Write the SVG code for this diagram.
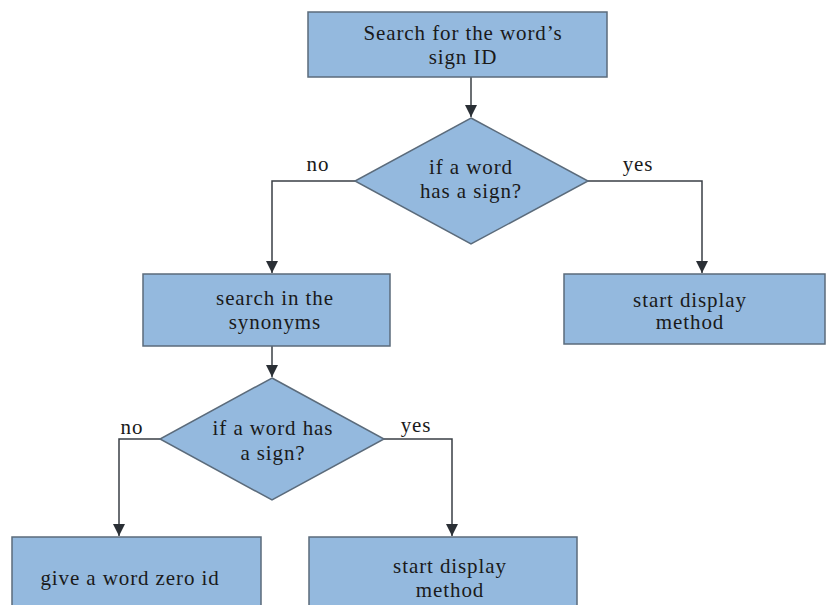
<svg xmlns="http://www.w3.org/2000/svg" width="826" height="605" viewBox="0 0 826 605">
<style>
.n{fill:#94b9de;stroke:#5b6b7b;stroke-width:1.5}
.t{font-family:'Liberation Serif','DejaVu Serif',serif;font-size:21px;fill:#1a1a1a;text-anchor:middle;letter-spacing:0.9px}
.c{fill:none;stroke:#3a3f45;stroke-width:1.5}
</style>
<defs>
<marker id="a" markerWidth="12" markerHeight="12" refX="10" refY="5" orient="auto" markerUnits="userSpaceOnUse" viewBox="0 0 10 10">
<path d="M0,0 L10,5 L0,10 z" fill="#2a2f35"/>
</marker>
</defs>
<rect width="826" height="605" fill="#ffffff"/>
<g id="connectors">
<path class="c" d="M471,77 V117" marker-end="url(#a)"/>
<path class="c" d="M355,181 H272 V273" marker-end="url(#a)"/>
<path class="c" d="M588,181 H702 V273" marker-end="url(#a)"/>
<path class="c" d="M272,346 V377" marker-end="url(#a)"/>
<path class="c" d="M160,439 H119 V536" marker-end="url(#a)"/>
<path class="c" d="M384,439 H452 V536" marker-end="url(#a)"/>
<text class="t" x="318" y="171">no</text>
<text class="t" x="638" y="171">yes</text>
<text class="t" x="132" y="434">no</text>
<text class="t" x="416" y="432">yes</text>
</g>
<g id="n1">
<rect class="n" x="308" y="12" width="299" height="65"/>
<text class="t" x="463" y="40">Search for the word’s</text>
<text class="t" x="463" y="64">sign ID</text>
</g>
<g id="n2">
<polygon class="n" points="471,118 588,181 471,244 355,181"/>
<text class="t" x="471" y="174">if a word</text>
<text class="t" x="471" y="198">has a sign?</text>
</g>
<g id="n3">
<rect class="n" x="143" y="274" width="247" height="72"/>
<text class="t" x="275" y="305">search in the</text>
<text class="t" x="275" y="329">synonyms</text>
</g>
<g id="n4">
<rect class="n" x="564" y="274" width="261" height="70"/>
<text class="t" x="690" y="307">start display</text>
<text class="t" x="690" y="329">method</text>
</g>
<g id="n5">
<polygon class="n" points="272,378 384,439 272,500 160,439"/>
<text class="t" x="273" y="435">if a word has</text>
<text class="t" x="273" y="460">a sign?</text>
</g>
<g id="n6">
<rect class="n" x="12" y="537" width="249" height="75"/>
<text class="t" x="130" y="585">give a word zero id</text>
</g>
<g id="n7">
<rect class="n" x="309" y="537" width="268" height="75"/>
<text class="t" x="450" y="573">start display</text>
<text class="t" x="450" y="597">method</text>
</g>
</svg>
